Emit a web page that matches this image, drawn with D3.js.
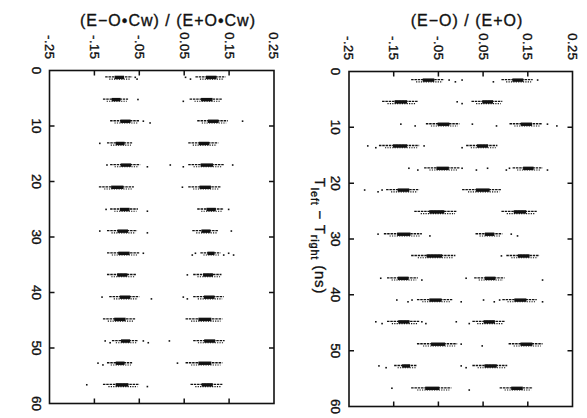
<!DOCTYPE html>
<html>
<head>
<meta charset="utf-8">
<script src="https://cdn.jsdelivr.net/npm/d3@7"></script>
<style>
  body { margin: 0; background: #fff; }
  text { font-family: "Liberation Sans", Arial, sans-serif; fill: #111; stroke: #111; stroke-width: 0.35px; }
</style>
</head>
<body>
<script>
// x tick labels (ratio) and y ticks (ns)
var xTicks = [-0.25, -0.15, -0.05, 0.05, 0.15, 0.25];
var xTickLabels = ["-.25", "-.15", "-.05", "0.05", "0.15", "0.25"];
var yTicks = [0, 10, 20, 30, 40, 50, 60];

// row centres (T_left - T_right, ns)
var leftRows = [1.3, 5.3, 9.2, 13.2, 17.1, 21.1, 25.1, 29.0, 33.0, 36.9, 40.9, 44.9, 48.8, 52.8, 56.7];
var rightRows = [1.6, 5.5, 9.5, 13.4, 17.4, 21.3, 25.2, 29.2, 33.1, 37.1, 41.0, 44.9, 48.9, 52.8, 56.8];

// left panel: (E-O*Cw)/(E+O*Cw), dense part of each cluster [lo, hi] and loose points
var leftNegCore = [[-0.126,-0.066],[-0.131,-0.075],[-0.115,-0.050],[-0.122,-0.066],[-0.115,-0.048],
  [-0.140,-0.062],[-0.115,-0.053],[-0.122,-0.055],[-0.122,-0.050],[-0.122,-0.057],
  [-0.117,-0.050],[-0.131,-0.059],[-0.111,-0.053],[-0.122,-0.066],[-0.131,-0.050]];
var leftPosCore = [[0.075,0.142],[0.062,0.135],[0.079,0.147],[0.059,0.126],[0.059,0.138],
  [0.059,0.131],[0.079,0.138],[0.068,0.126],[0.086,0.131],[0.070,0.133],
  [0.070,0.138],[0.053,0.135],[0.070,0.140],[0.053,0.135],[0.064,0.135]];
var leftDots = [
  [-0.059, -0.055, 0.053, 0.064],
  [-0.053, 0.048],
  [-0.041, -0.026, 0.180],
  [-0.138],
  [-0.122, -0.032, 0.019, 0.048, 0.158],
  [0.046],
  [-0.124, -0.032, 0.149],
  [-0.138, -0.032, 0.155],
  [-0.041, 0.068, 0.075, 0.138, 0.149, 0.160],
  [0.057],
  [-0.133, -0.023, 0.048, 0.057],
  [],
  [-0.126, -0.115, -0.041, -0.030, 0.017],
  [-0.142, -0.131, 0.035],
  [-0.167, -0.032]
];

// right panel: (E-O)/(E+O)
var rightNegCore = [[-0.111,-0.037],[-0.176,-0.096],[-0.078,-0.003],[-0.183,-0.093],[-0.082,-0.003],
  [-0.167,-0.093],[-0.104,-0.008],[-0.172,-0.087],[-0.111,-0.012],[-0.165,-0.096],
  [-0.098,-0.019],[-0.165,-0.093],[-0.098,-0.008],[-0.149,-0.098],[-0.111,-0.021]];
var rightPosCore = [[0.091,0.161],[0.024,0.093],[0.109,0.181],[0.012,0.082],[0.116,0.183],
  [0.003,0.091],[0.091,0.170],[0.033,0.093],[0.102,0.176],[0.030,0.098],
  [0.093,0.170],[0.026,0.098],[0.107,0.183],[0.026,0.104],[0.087,0.161]];
var rightDots = [
  [-0.026, -0.012, 0.003, 0.073, 0.172],
  [-0.008, 0.003],
  [-0.134, -0.102, 0.026, 0.080, 0.194, 0.215],
  [-0.208, -0.190, -0.082, 0.003],
  [-0.116, -0.096, 0.003, 0.035, 0.060, 0.102, 0.109, 0.194],
  [-0.215, -0.185, -0.176],
  [],
  [-0.185, -0.069, 0.113, 0.127],
  [0.091],
  [-0.179, -0.087, 0.012, 0.183],
  [-0.143, -0.118, -0.109, 0.001, 0.051, 0.075, 0.087, 0.183],
  [-0.190, -0.176, -0.087, -0.078, -0.010, 0.019],
  [0.001, 0.048],
  [-0.183, -0.167, 0.001, 0.012],
  [-0.154, 0.019]
];

var W = 587, H = 418;
var svg = d3.select("body").append("svg")
  .attr("width", W).attr("height", H);

var panels = [
  { title: "(E\u2212O\u2022Cw) / (E+O\u2022Cw)", x0: 49.5, x1: 274, y0: 70.5, y1: 403.5,
    rows: leftRows, neg: leftNegCore, pos: leftPosCore, dots: leftDots, titleX: 168, titleY: 26 },
  { title: "(E\u2212O) / (E+O)", x0: 349, x1: 572.5, y0: 71.5, y1: 406.5,
    rows: rightRows, neg: rightNegCore, pos: rightPosCore, dots: rightDots, titleX: 467, titleY: 26 }
];

panels.forEach(function(p) {
  var x = d3.scaleLinear().domain([-0.25, 0.25]).range([p.x0, p.x1]);
  var y = d3.scaleLinear().domain([0, 60]).range([p.y0, p.y1]);
  var g = svg.append("g");

  // frame
  g.append("rect")
    .attr("x", p.x0).attr("y", p.y0)
    .attr("width", p.x1 - p.x0).attr("height", p.y1 - p.y0)
    .attr("fill", "none").attr("stroke", "#111").attr("stroke-width", 1.6);

  // inward ticks on all four sides
  var tl = 5;
  var xt = xTicks.slice(1, -1), yt = yTicks.slice(1, -1);
  g.selectAll(".xt").data(xt).enter().append("path")
    .attr("d", function(d) {
      var px = x(d);
      return "M" + px + "," + p.y0 + "v" + tl + "M" + px + "," + p.y1 + "v" + (-tl);
    })
    .attr("stroke", "#111").attr("stroke-width", 1.5);
  g.selectAll(".yt").data(yt).enter().append("path")
    .attr("d", function(d) {
      var py = y(d);
      return "M" + p.x0 + "," + py + "h" + tl + "M" + p.x1 + "," + py + "h" + (-tl);
    })
    .attr("stroke", "#111").attr("stroke-width", 1.5);

  // tick labels, turned a quarter clockwise
  g.selectAll(".xl").data(xTicks).enter().append("text")
    .attr("transform", function(d) { return "translate(" + x(d) + "," + (p.y0 - 11) + ") rotate(90)"; })
    .attr("text-anchor", "end").attr("dy", "0.35em")
    .attr("font-size", 13).attr("letter-spacing", 0.5)
    .text(function(d, i) { return xTickLabels[i]; });
  g.selectAll(".yl").data(yTicks).enter().append("text")
    .attr("transform", function(d) { return "translate(" + (p.x0 - 13) + "," + y(d) + ") rotate(90)"; })
    .attr("text-anchor", "middle").attr("dy", "0.35em")
    .attr("font-size", 13.5)
    .text(function(d) { return d; });

  // title
  g.append("text")
    .attr("x", p.titleX).attr("y", p.titleY)
    .attr("text-anchor", "middle")
    .attr("font-size", 16).attr("letter-spacing", 1)
    .text(p.title);

  // clusters: thin dotted run over the whole core, heavier clump in its middle
  var cores = [];
  p.rows.forEach(function(t, i) {
    cores.push({ t: t, c: p.neg[i] });
    cores.push({ t: t, c: p.pos[i] });
  });
  g.selectAll(".core").data(cores).enter().append("line")
    .attr("x1", function(d) { return x(d.c[0]); })
    .attr("x2", function(d) { return x(d.c[1]); })
    .attr("y1", function(d) { return y(d.t) - 0.8; })
    .attr("y2", function(d) { return y(d.t) - 0.8; })
    .attr("stroke", "#111").attr("stroke-width", 1.3)
    .attr("stroke-dasharray", "2.5,0.8");
  g.selectAll(".under").data(cores).enter().append("line")
    .attr("x1", function(d) { var w = x(d.c[1]) - x(d.c[0]); return x(d.c[0]) + w * 0.15; })
    .attr("x2", function(d) { var w = x(d.c[1]) - x(d.c[0]); return x(d.c[1]) - w * 0.05; })
    .attr("y1", function(d) { return y(d.t) + 1.4; })
    .attr("y2", function(d) { return y(d.t) + 1.4; })
    .attr("stroke", "#111").attr("stroke-width", 1.1)
    .attr("stroke-dasharray", "1.2,1.2");
  g.selectAll(".clump").data(cores).enter().append("rect")
    .attr("x", function(d) { var w = x(d.c[1]) - x(d.c[0]); return x(d.c[0]) + w * 0.35; })
    .attr("width", function(d) { return (x(d.c[1]) - x(d.c[0])) * 0.35; })
    .attr("y", function(d) { return y(d.t) - 2; })
    .attr("height", 3.4)
    .attr("fill", "#111");

  var pts = [];
  p.rows.forEach(function(t, i) {
    p.dots[i].forEach(function(v, j) { pts.push({ t: t, v: v, k: j }); });
  });
  g.selectAll(".dot").data(pts).enter().append("rect")
    .attr("x", function(d) { return x(d.v) - 0.8; })
    .attr("y", function(d) { return y(d.t) - 1.2 + (d.k % 2) * 1.8; })
    .attr("width", 1.6).attr("height", 1.6)
    .attr("fill", "#111");
});

// shared axis label between the panels, turned a quarter clockwise
var lab = svg.append("text")
  .attr("transform", "translate(315,236) rotate(90)")
  .attr("text-anchor", "middle")
  .attr("font-size", 15).attr("letter-spacing", 0.8);
lab.append("tspan").text("T");
lab.append("tspan").attr("font-size", 11).attr("dy", 4).text("left");
lab.append("tspan").attr("dy", -4).text(" \u2212 T");
lab.append("tspan").attr("font-size", 11).attr("dy", 4).text("right");
lab.append("tspan").attr("dy", -4).text(" (ns)");
</script>
</body>
</html>
